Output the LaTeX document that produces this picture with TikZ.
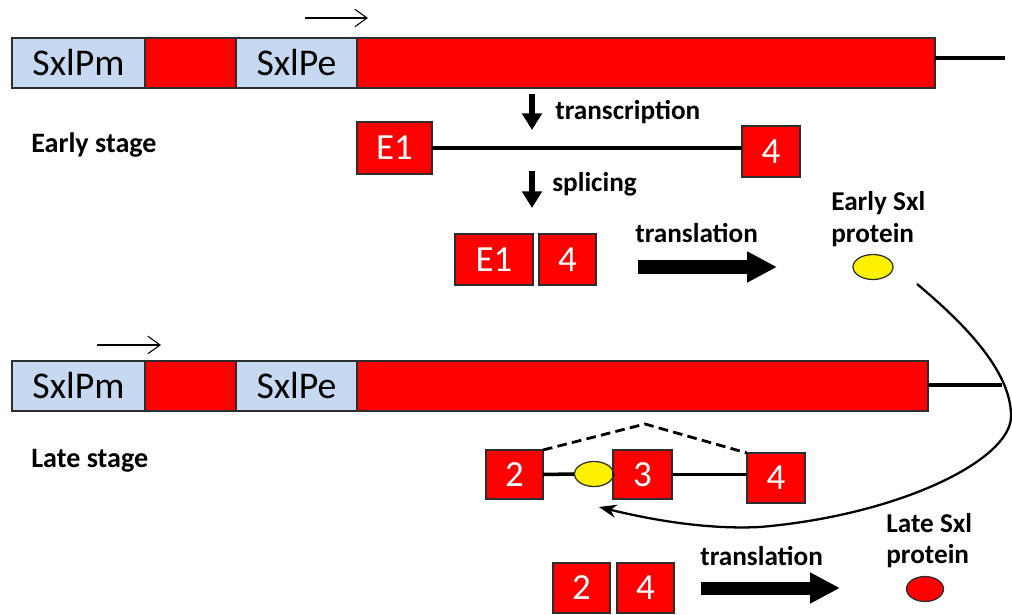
\documentclass[tikz,border=0pt]{standalone}
\usepackage{fontspec}
\setmainfont{Carlito}
\usetikzlibrary{arrows.meta,shapes.geometric}
\definecolor{pblue}{RGB}{198,217,241}
\definecolor{edgec}{RGB}{45,45,45}
\begin{document}
\begin{tikzpicture}[x=0.02cm,y=-0.02cm,
  gbox/.style={draw=edgec,line width=0.7pt,minimum height=1cm,inner sep=0pt,outer sep=0pt},
  prom/.style={gbox,fill=pblue,font=\fontsize{21.5}{24}\selectfont},
  exon/.style={gbox,fill=red},
  ex/.style={draw=edgec,line width=0.7pt,fill=red,inner sep=0pt,outer sep=0pt,text=white,font=\fontsize{21}{24}\selectfont},
  lbl/.style={font=\bfseries\fontsize{15.5}{18}\selectfont,inner sep=0pt,anchor=base west},
  stage/.style={font=\bfseries\fontsize{16}{19}\selectfont,inner sep=0pt,anchor=base west},
  thinarrow/.style={-{Straight Barb[length=7pt,width=10pt]},line width=0.6pt},
  vdown/.style={-{Triangle[length=9.5pt,width=11pt]},line width=3pt},
  bigarrow/.style={-{Triangle[length=17pt,width=16.5pt]},line width=7.4pt},
  rna/.style={line width=2pt},
  dashline/.style={line width=1.6pt,dash pattern=on 5.5pt off 3pt},
  curvearrow/.style={-{Stealth[length=10pt,width=7.5pt]},line width=1.3pt},
  prot/.style={ellipse,draw=edgec,line width=0.7pt,inner sep=0pt,minimum height=0.5cm}]
\useasboundingbox (0,0) rectangle (1012,615);

% ---------- early stage gene ----------
\node[prom, minimum width=2.66cm] (pm1) at (78.5,63) {SxlPm};
\node[exon, minimum width=1.82cm] (ra1) at (190.5,63) {};
\node[prom, minimum width=2.42cm] (pe1) at (296.5,63) {SxlPe};
\node[exon, minimum width=11.56cm] (rb1) at (646,63) {};
\coordinate (t1) at (1005,58);
\draw[rna] (rb1.east |- t1) -- (t1);
\coordinate (p1s) at (305,18);
\coordinate (p1e) at (368,18);
\draw[thinarrow] (p1s) -- (p1e);

\node[stage] (es) at (31,153) {Early stage};

\coordinate (tra) at (532,94);
\coordinate (trb) at (532,130);
\draw[vdown] (tra) -- (trb);
\node[lbl] (trl) at (555,120) {transcription};

\node[ex, minimum width=1.5cm, minimum height=1.04cm] (e1m) at (394.5,148) {E1};
\node[ex, minimum width=1.16cm, minimum height=1.02cm] (e4m) at (771,151.5) {4};
\draw[rna] (e1m.east) -- (e4m.west |- e1m.east);

\coordinate (spa) at (532,171);
\coordinate (spb) at (532,208);
\draw[vdown] (spa) -- (spb);
\node[lbl] (spl) at (552,192) {splicing};

\node[ex, minimum width=1.56cm, minimum height=1.02cm] (e1s) at (494,259.5) {E1};
\node[ex, minimum width=1.14cm, minimum height=1.02cm] (e4s) at (567.5,259.5) {4};

\coordinate (ta1) at (638,267);
\coordinate (tb1) at (777,267);
\draw[bigarrow] (ta1) -- (tb1);
\node[lbl] (tl1) at (635,243) {translation};

\node[lbl] (ep1) at (831,211) {Early Sxl};
\node[lbl] (ep2) at (831,243) {protein};
\node[prot, fill=yellow, minimum width=0.8cm] (yp) at (873,267) {};

% ---------- late stage gene ----------
\node[prom, minimum width=2.66cm] (pm2) at (78.5,386) {SxlPm};
\node[exon, minimum width=1.82cm] (ra2) at (190.5,386) {};
\node[prom, minimum width=2.42cm] (pe2) at (296.5,386) {SxlPe};
\node[exon, minimum width=11.42cm] (rb2) at (642.5,386) {};
\coordinate (t2) at (1002,385);
\draw[rna] (rb2.east |- t2) -- (t2);
\coordinate (p2s) at (97,345);
\coordinate (p2e) at (161,345);
\draw[thinarrow] (p2s) -- (p2e);

\node[stage] (ls) at (31,467) {Late stage};

\node[ex, minimum width=1.14cm, minimum height=0.98cm] (l2) at (514.5,474.5) {2};
\node[prot, fill=yellow, minimum width=0.78cm] (y2) at (594,474) {};
\node[ex, minimum width=1.18cm, minimum height=0.98cm] (l3) at (642.5,474.5) {3};
\node[ex, minimum width=1.16cm, minimum height=1.0cm] (l4) at (776,478) {4};
\draw[rna] (l2.east) -- (y2.west);
\draw[rna] (y2.east) -- (l3.west);
\draw[rna] (l3.east) -- (l4.west |- l3.east);
\coordinate (dk) at (645,424);
\draw[dashline] (l2.north east) -- (dk) -- (l4.north west);

\node[ex, minimum width=1.14cm, minimum height=1.0cm] (b2) at (581.5,588) {2};
\node[ex, minimum width=1.14cm, minimum height=1.0cm] (b4) at (645.5,588) {4};

\coordinate (ta2) at (701,588);
\coordinate (tb2) at (840,588);
\draw[bigarrow] (ta2) -- (tb2);
\node[lbl] (tl2) at (700,565) {translation};

\node[lbl] (lp1) at (886,532) {Late Sxl};
\node[lbl] (lp2) at (886,563) {protein};
\node[prot, fill=red, minimum width=0.74cm] (rp) at (925,589) {};

% ---------- feedback curve ----------
\coordinate (cs) at (917,284);
\coordinate (ce) at (599,507);
\draw[curvearrow] (cs) .. controls (960,320) and (1012,370) .. (1011,417)
  .. controls (1010,460) and (900,515) .. (760,527)
  .. controls (700,530) and (640,517) .. (ce);
\end{tikzpicture}
\end{document}
